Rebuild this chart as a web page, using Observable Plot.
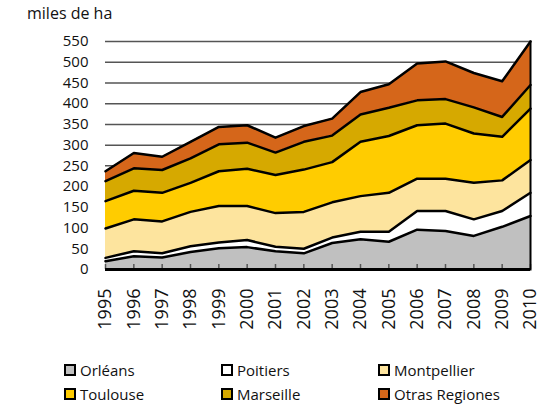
<!DOCTYPE html>
<html><head><meta charset="utf-8">
<script src="https://cdn.jsdelivr.net/npm/d3@7"></script>
<script src="https://cdn.jsdelivr.net/npm/@observablehq/plot@0.6"></script>
<style>
body{margin:0;background:#fff;font-family:"Open Sans",sans-serif;}
#wrap{position:relative;width:553px;height:406px;overflow:hidden;}
#chart{position:absolute;left:0;top:0;}
.ylab{position:absolute;left:27px;top:4px;font-size:16px;color:#111;line-height:1.2;}
.leg{position:absolute;display:flex;align-items:center;font-size:15px;color:#111;height:16px;line-height:16px;}
.sw{width:12px;height:12px;box-sizing:border-box;border:2.5px solid #000;margin-right:4px;flex:none;}
</style></head><body>
<div id="wrap"><div id="chart"></div><div class="ylab">miles de ha</div></div>
<script>
const years = [1995,1996,1997,1998,1999,2000,2001,2002,2003,2004,2005,2006,2007,2008,2009,2010];
const seriesNames = ["Orléans","Poitiers","Montpellier","Toulouse","Marseille","Otras Regiones"];
const seriesColors = ["#c0c0c0","#ffffff","#fde49e","#ffcc00","#d6a900","#d5661a"];
const orleans     = [20,32,29,42,51,54,44,39,64,73,67,96,93,81,103,129];
const poitiers    = [8,12,10,14,14,17,11,11,13,18,24,45,48,40,38,56];
const montpellier = [71,77,77,83,88,82,81,89,85,86,94,78,78,88,74,79];
const toulouse    = [66,69,69,70,84,90,92,102,97,131,137,129,133,119,105,124];
const marseille   = [48,54,55,59,65,63,54,67,64,66,68,60,59,63,48,57];
const otras       = [24,37,32,40,42,42,36,38,41,54,57,89,91,83,86,105];
const yTicks = [0,50,100,150,200,250,300,350,400,450,500,550];

const seriesValues = [orleans, poitiers, montpellier, toulouse, marseille, otras];
const data = [];
seriesNames.forEach((s, i) => years.forEach((y, j) => data.push({series: s, year: y, value: seriesValues[i][j]})));

const chart = Plot.plot({
  width: 553, height: 350,
  marginLeft: 105, marginRight: 23, marginTop: 41, marginBottom: 81,
  style: {fontFamily: '"Open Sans", sans-serif', fontSize: "15px", color: "#111", background: "#fff"},
  x: {domain: [1995, 2010]},
  y: {domain: [0, 550]},
  color: {domain: seriesNames, range: seriesColors},
  marks: [
    Plot.ruleY(yTicks.slice(1), {stroke: "#555", strokeWidth: 1.5}),
    Plot.areaY(data, {x: "year", y: "value", z: "series", fill: "series", order: seriesNames}),
    Plot.lineY(data, Plot.stackY2({x: "year", y: "value", z: "series", order: seriesNames, stroke: "#000", strokeWidth: 2.5, strokeLinejoin: "round"})),
    Plot.ruleX(years, {x: d => d, y1: 0, y2: 0, insetTop: -5, stroke: "#555", strokeWidth: 1.5}),
    Plot.ruleY([0], {stroke: "#000", strokeWidth: 3}),
    Plot.frame({anchor: "right", stroke: "#000", strokeWidth: 2}),
    Plot.axisY(yTicks, {tickSize: 0, tickPadding: 17, label: null, fontSize: 15}),
    Plot.axisX(years, {tickSize: 0, tickPadding: 19, tickRotate: -90, tickFormat: d => String(d), label: null, fontSize: 18})
  ]
});
document.getElementById("chart").appendChild(chart);

const wrap = document.getElementById("wrap");
const cols = [64, 221, 378], rowCenters = [370, 394];
seriesNames.forEach((s, i) => {
  const el = document.createElement("div");
  el.className = "leg";
  el.style.left = cols[i % 3] + "px";
  el.style.top = (rowCenters[Math.floor(i / 3)] - 8) + "px";
  el.innerHTML = `<div class="sw" style="background:${seriesColors[i]}"></div><span>${s}</span>`;
  wrap.appendChild(el);
});
</script>
</body></html>
